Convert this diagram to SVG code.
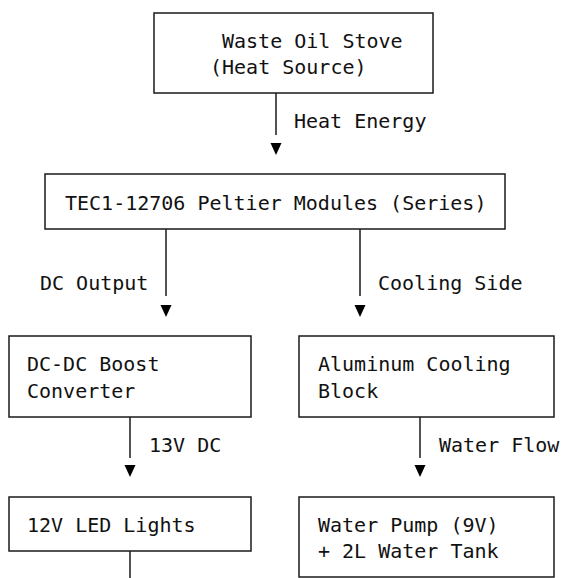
<svg xmlns="http://www.w3.org/2000/svg" width="561" height="578" viewBox="0 0 561 578">
<style>
.box{fill:#fff;stroke:#1a1a1a;stroke-width:1.5}
text{font-family:"DejaVu Sans Mono","Liberation Mono",monospace;font-size:20px;fill:#111}
.ln{stroke:#1a1a1a;stroke-width:1.5;fill:none}
.ah{fill:#000}
</style>
<rect width="561" height="578" fill="#fff"/>
<g id="connectors">
<line class="ln" x1="276" y1="93" x2="276" y2="135"/>
<polygon class="ah" points="270.5,143 281.5,143 276,155"/>
<text x="294" y="128">Heat Energy</text>
<line class="ln" x1="166" y1="229" x2="166" y2="296"/>
<polygon class="ah" points="160.5,305 171.5,305 166,317"/>
<text x="40" y="290">DC Output</text>
<line class="ln" x1="360" y1="229" x2="360" y2="296"/>
<polygon class="ah" points="354.5,305 365.5,305 360,317"/>
<text x="378" y="290">Cooling Side</text>
<line class="ln" x1="130" y1="417" x2="130" y2="458"/>
<polygon class="ah" points="124.5,465 135.5,465 130,477"/>
<text x="149" y="452">13V DC</text>
<line class="ln" x1="420" y1="417" x2="420" y2="458"/>
<polygon class="ah" points="414.5,465 425.5,465 420,477"/>
<text x="439" y="452">Water Flow</text>
<line class="ln" x1="130" y1="551" x2="130" y2="578"/>
</g>
<g id="stove">
<rect class="box" x="154" y="13" width="279" height="80"/>
<text x="222" y="48">Waste Oil Stove</text>
<text x="210" y="74">(Heat Source)</text>
</g>
<g id="peltier">
<rect class="box" x="45" y="174" width="460" height="55"/>
<text x="65" y="210">TEC1-12706 Peltier Modules (Series)</text>
</g>
<g id="boost">
<rect class="box" x="9" y="336" width="242" height="81"/>
<text x="27" y="371">DC-DC Boost</text>
<text x="27" y="398">Converter</text>
</g>
<g id="cooling">
<rect class="box" x="299" y="336" width="255" height="81"/>
<text x="318" y="371">Aluminum Cooling</text>
<text x="318" y="398">Block</text>
</g>
<g id="led">
<rect class="box" x="9" y="497" width="242" height="54"/>
<text x="27" y="532">12V LED Lights</text>
</g>
<g id="pump">
<rect class="box" x="299" y="497" width="255" height="80"/>
<text x="318" y="532">Water Pump (9V)</text>
<text x="318" y="558">+ 2L Water Tank</text>
</g>
</svg>
